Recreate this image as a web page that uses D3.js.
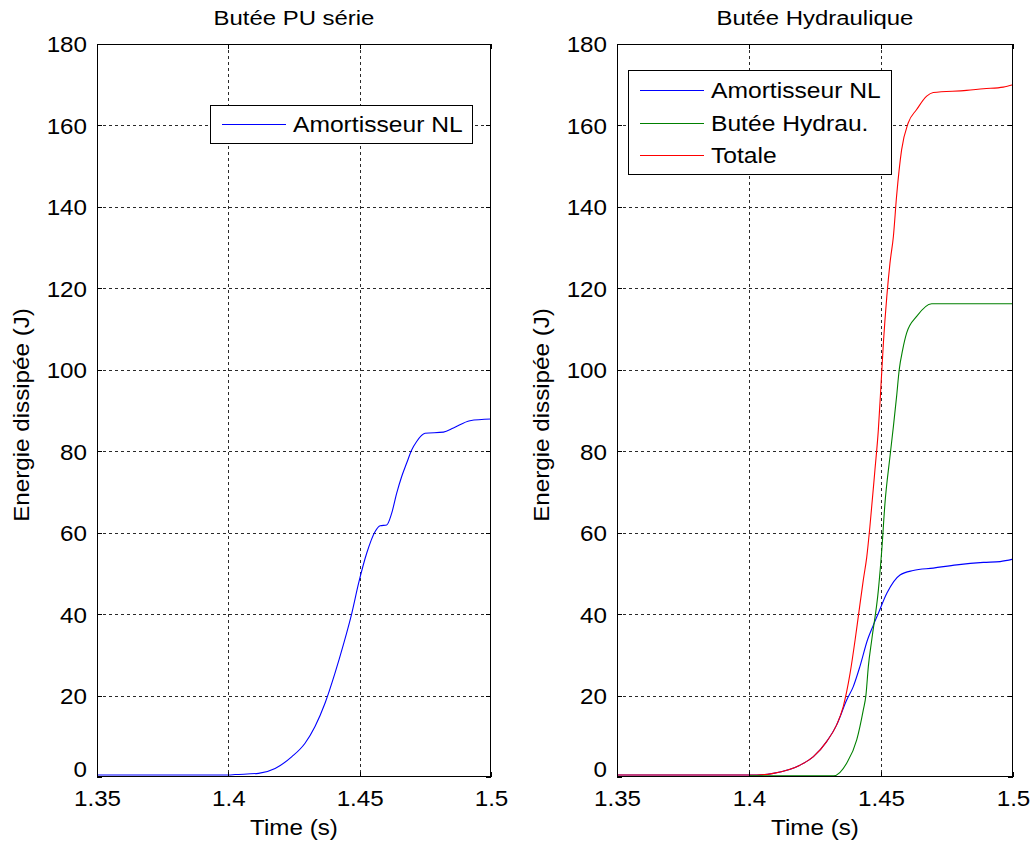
<!DOCTYPE html>
<html>
<head>
<meta charset="utf-8">
<script src="https://cdn.jsdelivr.net/npm/d3@7"></script>
<style>
  html, body { margin: 0; padding: 0; background: #fff; }
  svg { display: block; }
  text { font-family: "Liberation Sans", Arial, sans-serif; fill: #000; }
</style>
</head>
<body>
<svg id="chart" width="1033" height="845"></svg>
<script>
// ---------- DATA ----------
const xTicks = [1.35, 1.4, 1.45, 1.5];
const xTickLabels = ["1.35", "1.4", "1.45", "1.5"];
const yTicks = [0, 20, 40, 60, 80, 100, 120, 140, 160, 180];
const yTickLabels = ["0", "20", "40", "60", "80", "100", "120", "140", "160", "180"];

const titles = ["Butée PU série", "Butée Hydraulique"];
const xLabel = "Time (s)";
const yLabel = "Energie dissipée (J)";

// Left panel: Amortisseur NL
const puTime = [1.35, 1.40, 1.4026, 1.4115, 1.4178, 1.4242, 1.4292, 1.433, 1.4368, 1.4406, 1.4438, 1.447, 1.4496, 1.4527, 1.4559, 1.4578, 1.4603, 1.4622, 1.4641, 1.466, 1.4679, 1.4698, 1.4717, 1.4749, 1.4819, 1.4857, 1.492, 1.5];
const puEnergy = [0.5, 0.5, 0.6, 0.9, 2.1, 5.0, 8.3, 12.4, 18.1, 25.5, 32.5, 40.2, 47.6, 55.0, 60.3, 61.7, 61.9, 64.8, 69.7, 73.8, 77.1, 80.3, 82.4, 84.4, 84.7, 85.7, 87.5, 87.9];

// Right panel
const amortTime = [1.35, 1.403, 1.4092, 1.4193, 1.4244, 1.4294, 1.4332, 1.437, 1.4395, 1.442, 1.4449, 1.4471, 1.449, 1.4522, 1.4572, 1.4622, 1.4698, 1.4787, 1.4888, 1.4951, 1.5];
const amortEnergy = [0.5, 0.5, 0.9, 2.9, 5.0, 8.7, 12.8, 18.9, 22.2, 27.1, 33.7, 37.3, 40.2, 45.1, 49.6, 50.7, 51.3, 52.1, 52.7, 52.9, 53.5];

const hydroTime = [1.40, 1.432, 1.437, 1.4408, 1.4433, 1.4443, 1.4452, 1.4465, 1.449, 1.4503, 1.4515, 1.4534, 1.4547, 1.4559, 1.4569, 1.4582, 1.4597, 1.4635, 1.4692, 1.5];
const hydroEnergy = [0.3, 0.3, 3.4, 9.1, 16.5, 20.1, 27.1, 33.7, 45.9, 55.8, 67.2, 78.7, 86.1, 93.4, 100.0, 104.9, 109.0, 113.1, 116.2, 116.2];

const totalTime = [1.35, 1.403, 1.4092, 1.4193, 1.4244, 1.4294, 1.4332, 1.4357, 1.4383, 1.4402, 1.4414, 1.4433, 1.4446, 1.4458, 1.4477, 1.449, 1.4499, 1.4509, 1.4522, 1.4534, 1.4547, 1.4559, 1.4578, 1.4603, 1.4635, 1.4673, 1.4698, 1.4824, 1.4888, 1.4963, 1.5];
const totalEnergy = [0.5, 0.5, 0.9, 2.9, 5.0, 8.7, 12.8, 17.3, 25.5, 33.7, 39.4, 48.4, 54.0, 61.5, 75.4, 85.3, 95.1, 106.5, 118.0, 126.2, 132.8, 142.6, 154.0, 160.6, 163.9, 167.2, 168.1, 168.6, 169.0, 169.4, 170.0];

const leftSeriesNames = ["Amortisseur NL"];
const rightSeriesNames = ["Amortisseur NL", "Butée Hydrau.", "Totale"];
const seriesColors = ["#0000ff", "#008000", "#ff0000"];

// ---------- DRAW ----------
const svg = d3.select("#chart");
const FONT = 22;
const SX = 1.1;

function stretchText(sel, sx) {
  sel.each(function () {
    const t = d3.select(this);
    const x = +t.attr("x") || 0;
    t.attr("transform", `translate(${x},0) scale(${sx},1) translate(${-x},0)`);
  });
}

function makePanel(cfg) {
  const x = d3.scaleLinear().domain([1.35, 1.5]).range([cfg.left, cfg.right]);
  const y = d3.scaleLinear().domain([0, 180]).range([777, 44]);
  const g = svg.append("g");

  const clipId = "clip" + cfg.id;
  svg.append("defs").append("clipPath").attr("id", clipId)
    .append("rect").attr("x", cfg.left).attr("y", 44)
    .attr("width", cfg.right - cfg.left).attr("height", 777 - 44);

  // grid
  const grid = g.append("g").attr("stroke", "#2a2a2a").attr("stroke-width", 1)
    .attr("stroke-dasharray", "3,3").attr("shape-rendering", "crispEdges");
  grid.selectAll("line.vx").data(xTicks.slice(1, -1)).join("line")
    .attr("x1", d => Math.round(x(d)) + 0.5).attr("x2", d => Math.round(x(d)) + 0.5)
    .attr("y1", 44).attr("y2", 777);
  grid.selectAll("line.hy").data(yTicks.slice(1, -1)).join("line")
    .attr("y1", d => Math.round(y(d)) + 0.5).attr("y2", d => Math.round(y(d)) + 0.5)
    .attr("x1", cfg.left).attr("x2", cfg.right);

  // lines
  const lineGen = d3.line().curve(d3.curveMonotoneX).x(d => x(d[0])).y(d => y(d[1]));
  const lg = g.append("g").attr("clip-path", `url(#${clipId})`);
  cfg.series.forEach(s => {
    const pts = s.t.map((tv, i) => [tv, s.v[i]]);
    lg.append("path").attr("d", lineGen(pts)).attr("fill", "none")
      .attr("stroke", s.color).attr("stroke-width", 1.1);
  });

  // axes
  const bottom = g.append("g").attr("transform", "translate(0,777)")
    .call(d3.axisBottom(x).tickValues(xTicks).tickFormat((d, i) => xTickLabels[i])
      .tickSizeInner(-5).tickSizeOuter(0));
  const top = g.append("g").attr("transform", "translate(0,44)")
    .call(d3.axisTop(x).tickValues(xTicks).tickFormat("").tickSizeInner(-5).tickSizeOuter(0));
  const leftAx = g.append("g").attr("transform", `translate(${cfg.left},0)`)
    .call(d3.axisLeft(y).tickValues(yTicks).tickFormat((d, i) => yTickLabels[i])
      .tickSizeInner(-5).tickSizeOuter(0));
  const rightAx = g.append("g").attr("transform", `translate(${cfg.right},0)`)
    .call(d3.axisRight(y).tickValues(yTicks).tickFormat("").tickSizeInner(-5).tickSizeOuter(0));
  [bottom, top, leftAx, rightAx].forEach(a => {
    a.select(".domain").remove();
    a.attr("font-family", null);
    a.selectAll("line").attr("stroke", "#000").attr("shape-rendering", "crispEdges");
  });
  bottom.selectAll("text").attr("y", 29).attr("dy", null)
    .attr("font-size", FONT).call(stretchText, SX);
  leftAx.selectAll("text").attr("x", -10).attr("dy", "0.36em")
    .attr("y", d => d === 0 ? -8 : 0)
    .attr("font-size", FONT).call(stretchText, SX);
  top.selectAll("text").remove();
  rightAx.selectAll("text").remove();

  // frame
  g.append("rect").attr("x", cfg.left + 0.5).attr("y", 44.5)
    .attr("width", cfg.right - cfg.left - 1).attr("height", 777 - 44 - 1)
    .attr("fill", "none").attr("stroke", "#000").attr("shape-rendering", "crispEdges");

  const cx = (cfg.left + cfg.right) / 2;
  // title
  g.append("text").attr("x", cx).attr("y", 25).attr("text-anchor", "middle")
    .attr("font-size", 21).text(cfg.title).call(stretchText, 1.14);
  // x label
  g.append("text").attr("x", cx).attr("y", 835).attr("text-anchor", "middle")
    .attr("font-size", FONT).text(xLabel).call(stretchText, SX);
  // y label
  g.append("g").attr("transform", `translate(${cfg.left - 68},415) rotate(-90)`)
    .append("text").attr("x", 0).attr("y", 0).attr("text-anchor", "middle")
    .attr("font-size", FONT).text(yLabel).call(stretchText, SX);

  // legend
  const L = cfg.legend;
  const lgd = g.append("g");
  lgd.append("rect").attr("x", L.x + 0.5).attr("y", L.y + 0.5).attr("width", L.w).attr("height", L.h)
    .attr("fill", "#fff").attr("stroke", "#000").attr("shape-rendering", "crispEdges");
  L.names.forEach((n, i) => {
    const ry = L.y + L.first + i * L.step;
    lgd.append("line").attr("x1", L.x + 12).attr("x2", L.x + 76)
      .attr("y1", Math.round(ry) + 0.5).attr("y2", Math.round(ry) + 0.5)
      .attr("stroke", L.colors[i]).attr("stroke-width", 1);
    lgd.append("text").attr("x", L.x + 83).attr("y", ry + 8)
      .attr("font-size", FONT).text(n).call(stretchText, 1.12);
  });
}

makePanel({
  id: "L", left: 97, right: 491, title: titles[0],
  series: [{ t: puTime, v: puEnergy, color: seriesColors[0] }],
  legend: { x: 210, y: 105, w: 262, h: 38, first: 19, step: 33, names: leftSeriesNames, colors: [seriesColors[0]] }
});

makePanel({
  id: "R", left: 617, right: 1013, title: titles[1],
  series: [
    { t: amortTime, v: amortEnergy, color: seriesColors[0] },
    { t: totalTime, v: totalEnergy, color: seriesColors[2] },
    { t: hydroTime, v: hydroEnergy, color: seriesColors[1] }
  ],
  legend: { x: 628, y: 70, w: 263, h: 104, first: 20, step: 32.7, names: rightSeriesNames, colors: seriesColors }
});
</script>
</body>
</html>
